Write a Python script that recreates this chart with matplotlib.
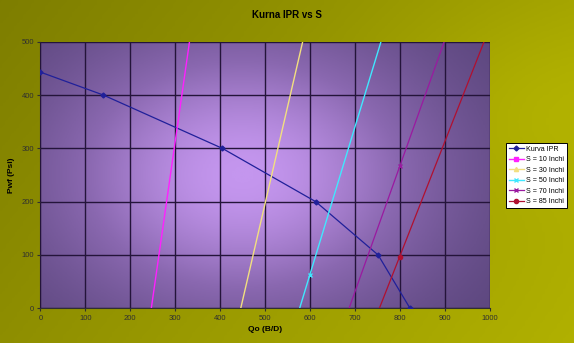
import numpy as np
import matplotlib
matplotlib.use("Agg")
import matplotlib.pyplot as plt
from matplotlib.colors import LinearSegmentedColormap

plt.rcParams['font.family'] = ['Liberation Sans', 'DejaVu Sans']

# data
ipr_qo = [0, 140, 405, 613, 752, 823]
ipr_pwf = [443, 400, 300, 200, 100, 0]

s10_qo = [200, 400]
s10_pwf = [-276, 900]
s30_qo = [400, 600]
s30_pwf = [-167, 558]
s50_qo = [400, 600, 800]
s50_pwf = [-490, 63, 615]
s70_qo = [600, 800, 1000]
s70_pwf = [-206, 266, 738]
s85_qo = [600, 800, 1000]
s85_pwf = [-332, 97, 526]

fig = plt.figure(figsize=(5.74, 3.43), dpi=100)

# olive background gradient
bg = fig.add_axes([0, 0, 1, 1], zorder=-10)
gx, gy = np.meshgrid(np.linspace(0, 1, 200), np.linspace(0, 1, 120))
bgval = 0.55 * gx + 0.25 * gy + 0.2 * np.exp(-((gx - 0.95) ** 2 + (gy - 0.3) ** 2) / 0.08)
bg_cmap = LinearSegmentedColormap.from_list("olive", ["#7e7e00", "#999900", "#b2b200"])
bg.imshow(bgval, cmap=bg_cmap, aspect="auto", extent=[0, 1, 0, 1], origin="upper")
bg.set_axis_off()

ax = fig.add_axes([0.0704, 0.1012, 0.7824, 0.7772])
ax.set_xlim(0, 1000)
ax.set_ylim(0, 500)

# purple plot-area gradient
px, py = np.meshgrid(np.linspace(0, 1, 200), np.linspace(0, 1, 200))
pval = np.exp(-(((px - 0.45) / 0.45) ** 2 + ((py - 0.5) / 0.55) ** 2))
pa_cmap = LinearSegmentedColormap.from_list("purp", ["#5e4880", "#8a68b0", "#c496ee"])
ax.imshow(pval, cmap=pa_cmap, aspect="auto", extent=[0, 1000, 0, 500], origin="upper", zorder=0)

ax.set_xticks(np.arange(0, 1001, 100))
ax.set_yticks(np.arange(0, 501, 100))
ax.grid(True, color="#24143a", linewidth=1.0, zorder=1)
ax.set_axisbelow(False)
for sp in ax.spines.values():
    sp.set_visible(False)
ax.spines['left'].set_visible(True)
ax.spines['bottom'].set_visible(True)
ax.spines['left'].set_color("#303030")
ax.spines['bottom'].set_color("#303030")
ax.tick_params(labelsize=5.5, colors="#303030", length=2.5, width=0.8, pad=2)

ax.plot(ipr_qo, ipr_pwf, color="#20209a", marker="D", markersize=2.5, linewidth=0.9, label="Kurva IPR", zorder=3)
ax.plot(s10_qo, s10_pwf, color="#ff20ff", marker="s", markersize=3, linewidth=1.0, label="S = 10 Inchi", zorder=3)
ax.plot(s30_qo, s30_pwf, color="#f2df80", marker="^", markersize=3, linewidth=1.0, label="S = 30 Inchi", zorder=3)
ax.plot(s50_qo, s50_pwf, color="#40e8ff", marker="x", markersize=3, linewidth=1.0, label="S = 50 Inchi", zorder=3)
ax.plot(s70_qo, s70_pwf, color="#9a1aa0", marker="x", markersize=3, linewidth=0.9, label="S = 70 Inchi", zorder=3)
ax.plot(s85_qo, s85_pwf, color="#b01030", marker="o", markersize=3, linewidth=0.9, label="S = 85 Inchi", zorder=3)

ax.set_xlabel("Qo (B/D)", fontsize=6, fontweight="bold", labelpad=3)
ax.set_ylabel("Pwf (Psi)", fontsize=6, fontweight="bold", labelpad=5)
fig.text(0.5, 0.957, "Kurna IPR vs S", fontsize=7, fontweight="bold", ha="center", va="center")

leg = fig.legend(loc="upper left", bbox_to_anchor=(0.875, 0.594), fontsize=5.1, frameon=True,
                 fancybox=False, edgecolor="black", framealpha=1, borderpad=0.4,
                 labelspacing=0.5, handlelength=2.2, handletextpad=0.3)
leg.get_frame().set_linewidth(0.7)

fig.savefig("out.png", dpi=100)
